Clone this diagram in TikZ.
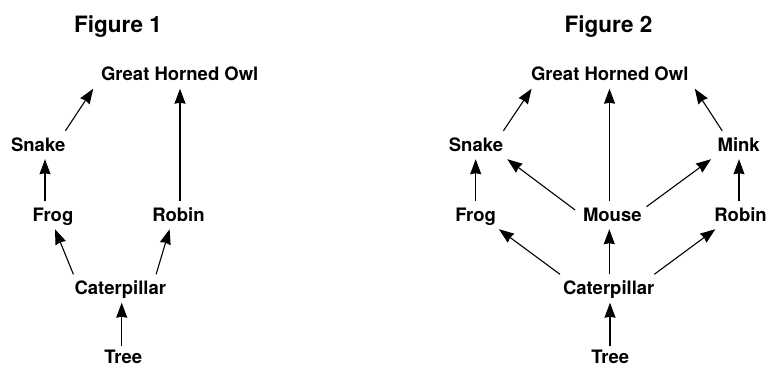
\documentclass[tikz,border=0pt]{standalone}
\usepackage{fontspec}
\setmainfont{TeX Gyre Heros}
\usetikzlibrary{arrows.meta}

\begin{document}
\begin{tikzpicture}[x=1pt,y=-1pt,
	critter/.style={font=\fontsize{18.5}{20}\selectfont\bfseries, anchor=base, inner sep=0pt, text height=20pt, text depth=8pt},
	root/.style={critter, text height=17.5pt, text depth=0pt},
	heading/.style={font=\fontsize{22.5}{24}\selectfont\bfseries, anchor=base, inner sep=0pt},
	eats/.style={-{Stealth[length=15pt,width=11pt,inset=1pt]}, line width=1.1pt}]
	\pgfmathsetmacro\YHead{32.3}
	\pgfmathsetmacro\YOwl{80.5}
	\pgfmathsetmacro\YTop{151}
	\pgfmathsetmacro\YMid{221}
	\pgfmathsetmacro\YCat{294.5}
	\pgfmathsetmacro\YTree{363.5}
	\useasboundingbox (0,0) rectangle (767,368);
	
	% Figure 1
	\node[heading] (headA) at (118,\YHead) {Figure 1};
	\node[critter] (owlA) at (179.7,\YOwl) {Great Horned Owl};
	\node[critter] (snakeA) at (38.2,\YTop) {Snake};
	\node[critter] (frogA) at (53,\YMid) {Frog};
	\node[critter] (robinA) at (178.5,\YMid) {Robin};
	\node[critter] (catA) at (120.3,\YCat) {Caterpillar};
	\node[root] (treeA) at (123.3,\YTree) {Tree};
	
	\draw[eats] ([xshift=27.2pt]snakeA.north) -- ([xshift=-86.5pt]owlA.south);
	\draw[eats] ([xshift=-8pt]frogA.north) -- ([xshift=6.8pt]snakeA.south);
	\draw[eats] ([xshift=1.5pt]robinA.north) -- ([xshift=0.3pt]owlA.south);
	\draw[eats] ([xshift=-46.9pt]catA.north) -- ([xshift=2pt]frogA.south);
	\draw[eats] ([xshift=35.8pt]catA.north) -- ([xshift=-8.9pt]robinA.south);
	\draw[eats] ([xshift=-1.6pt]treeA.north) -- ([xshift=1.4pt]catA.south);
	
	% Figure 2
	\node[heading] (headB) at (608.5,\YHead) {Figure 2};
	\node[critter] (owlB) at (609.7,\YOwl) {Great Horned Owl};
	\node[critter] (snakeB) at (476,\YTop) {Snake};
	\node[critter] (minkB) at (738.7,\YTop) {Mink};
	\node[critter] (frogB) at (475.7,\YMid) {Frog};
	\node[critter] (mouseB) at (612.3,\YMid) {Mouse};
	\node[critter] (robinB) at (740.6,\YMid) {Robin};
	\node[critter] (catB) at (608.7,\YCat) {Caterpillar};
	\node[root] (treeB) at (610.2,\YTree) {Tree};
	
	\draw[eats] ([xshift=27.4pt]snakeB.north) -- ([xshift=-78.1pt]owlB.south);
	\draw[eats] ([xshift=-2.8pt]mouseB.north) -- ([xshift=-0.2pt]owlB.south);
	\draw[eats] ([xshift=-16.5pt]minkB.north) -- ([xshift=85.1pt]owlB.south);
	\draw[eats] (frogB.north) -- ([xshift=-0.3pt]snakeB.south);
	\draw[eats] ([xshift=-7.7pt,yshift=5pt]mouseB.west) -- ([xshift=31.3pt]snakeB.south);
	\draw[eats] ([xshift=4.7pt,yshift=8.3pt]mouseB.east) -- ([xshift=-27.6pt]minkB.south);
	\draw[eats] ([xshift=-1.6pt]robinB.north) -- ([xshift=0.3pt]minkB.south);
	\draw[eats] ([xshift=-48.7pt]catB.north) -- ([xshift=23.2pt]frogB.south);
	\draw[eats] ([xshift=0.6pt]catB.north) -- ([xshift=-3pt]mouseB.south);
	\draw[eats] ([xshift=45.6pt]catB.north) -- ([xshift=-25.3pt]robinB.south);
	\draw[eats] ([xshift=-0.2pt]treeB.north) -- ([xshift=1.3pt]catB.south);
\end{tikzpicture}
\end{document}
